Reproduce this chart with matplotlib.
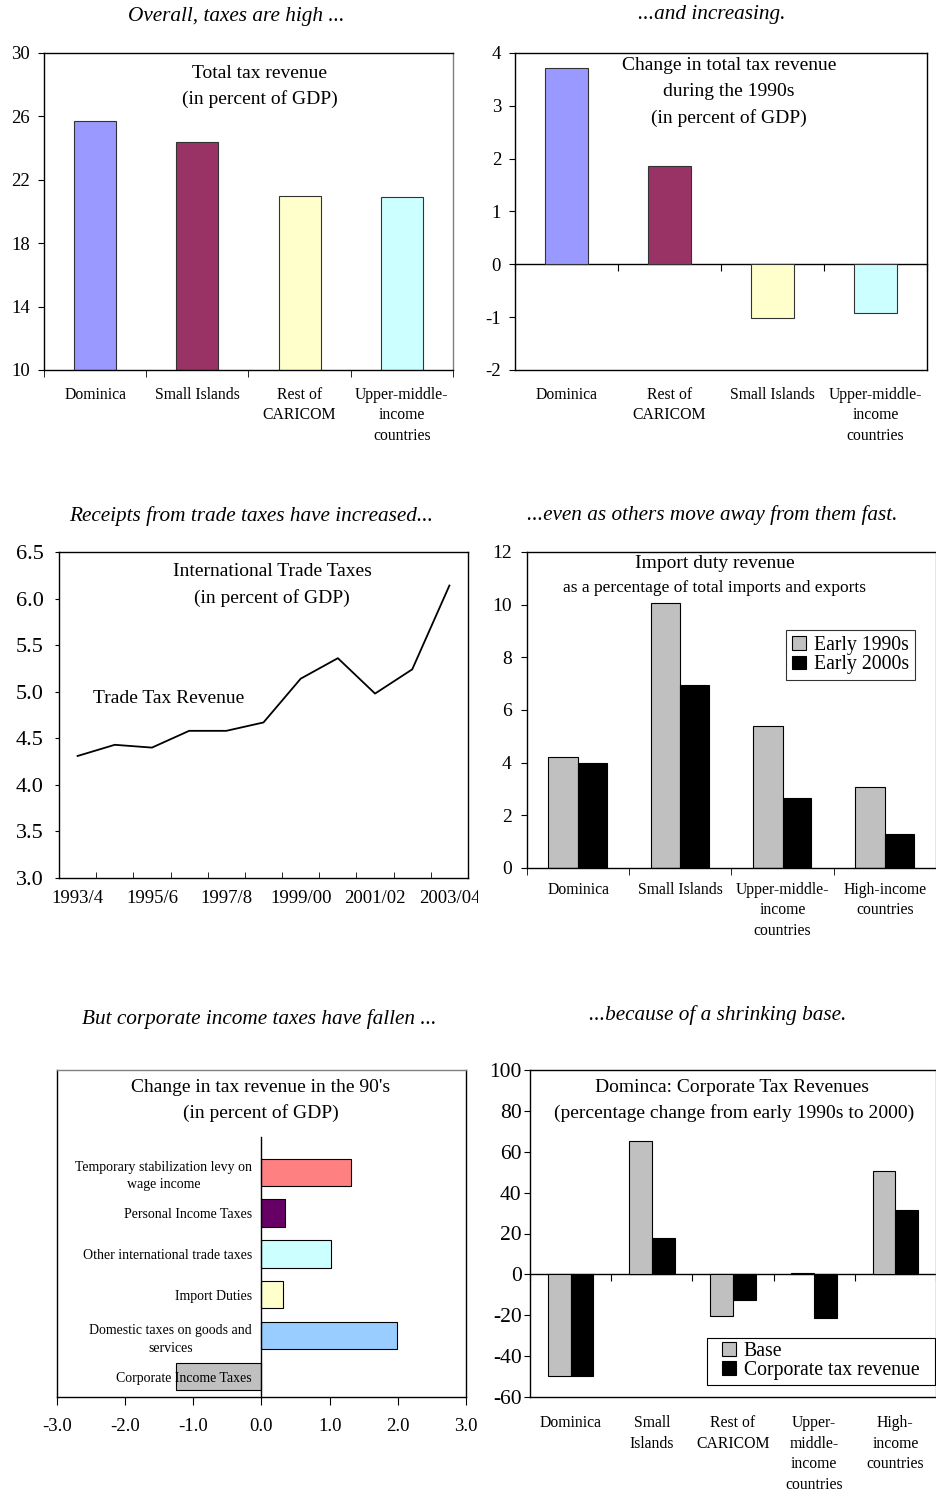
import matplotlib
matplotlib.use('Agg')
import matplotlib.pyplot as plt
import numpy as np
from matplotlib.transforms import Bbox, TransformedBbox
from matplotlib.patches import Rectangle

plt.rcParams['font.family'] = ['Liberation Serif', 'DejaVu Serif']
plt.rcParams['axes.unicode_minus'] = False
plt.rcParams['axes.linewidth'] = 1.0

# ---------------- data ----------------
p1_categories = ['Dominica', 'Small Islands', 'Rest of\nCARICOM', 'Upper-middle-\nincome\ncountries']
p1_values = [25.7, 24.4, 21.0, 20.9]

p2_categories = ['Dominica', 'Rest of\nCARICOM', 'Small Islands', 'Upper-middle-\nincome\ncountries']
p2_values = [3.71, 1.86, -1.02, -0.92]

p3_years = ['1993/4', '1994/5', '1995/6', '1996/7', '1997/8', '1998/9',
            '1999/00', '2000/01', '2001/02', '2002/03', '2003/04']
p3_values = [4.31, 4.43, 4.40, 4.58, 4.58, 4.67, 5.14, 5.36, 4.98, 5.24, 6.14]

p4_categories = ['Dominica', 'Small Islands', 'Upper-middle-\nincome\ncountries', 'High-income\ncountries']
p4_early1990s = [4.22, 10.05, 5.38, 3.08]
p4_early2000s = [3.97, 6.94, 2.64, 1.28]

p5_categories = ['Corporate Income Taxes', 'Domestic taxes on goods and\nservices', 'Import Duties',
                 'Other international trade taxes', 'Personal Income Taxes',
                 'Temporary stabilization levy on\nwage income']
p5_values = [-1.25, 1.99, 0.32, 1.02, 0.34, 1.31]

p6_categories = ['Dominica', 'Small\nIslands', 'Rest of\nCARICOM', 'Upper-\nmiddle-\nincome\ncountries',
                 'High-\nincome\ncountries']
p6_base = [-49.5, 65.3, -20.5, 0.8, 50.5]
p6_corporate = [-49.5, 17.6, -12.3, -21.5, 31.4]

# ---------------- styles ----------------
bar_colors_4 = ['#9999FF', '#993366', '#FFFFCC', '#CCFFFF']
p5_colors = ['#C0C0C0', '#99CCFF', '#FFFFCC', '#CCFFFF', '#660066', '#FF8080']
light_grey = '#C0C0C0'

W, H = 937, 1490
fig = plt.figure(figsize=(W / 100, H / 100), dpi=100)
fig.patch.set_facecolor('white')

TICK_FS = 13.5
CAT_FS = 11.3
CAT_LS = 1.38
TITLE_FS = 14
HEAD_FS = 15.3


def add_ax(l, t, r, b):
    return fig.add_axes([l / W, 1 - b / H, (r - l) / W, (b - t) / H])


def ftext(x, y, s, **kw):
    kw.setdefault('ha', 'center')
    kw.setdefault('va', 'center')
    fig.text(x / W, 1 - y / H, s, **kw)


# ---------------- headings ----------------
ftext(236, 17, 'Overall, taxes are high ...', style='italic', fontsize=HEAD_FS)
ftext(712, 14, '...and increasing.', style='italic', fontsize=HEAD_FS)
ftext(251, 516, 'Receipts from trade taxes have increased...', style='italic', fontsize=HEAD_FS)
ftext(712, 515, '...even as others move away from them fast.', style='italic', fontsize=HEAD_FS)
ftext(259, 1019, 'But corporate income taxes have fallen ...', style='italic', fontsize=HEAD_FS)
ftext(718, 1015, '...because of a shrinking base.', style='italic', fontsize=HEAD_FS)

# ---------------- chart 1 ----------------
ax = add_ax(44, 53, 453, 370)
x = np.arange(len(p1_categories))
ax.bar(x, p1_values, width=0.41, color=bar_colors_4, edgecolor='#333333', linewidth=0.8)
ax.set_xlim(-0.5, len(x) - 0.5)
ax.set_ylim(10, 30)
ax.set_yticks(np.arange(10, 31, 4))
ax.set_xticks(x)
ax.set_xticklabels(p1_categories, fontsize=CAT_FS, linespacing=CAT_LS)
ax.tick_params(axis='x', which='major', length=0, pad=12)
ax.set_xticks(np.arange(-0.5, len(x), 1), minor=True)
ax.tick_params(axis='x', which='minor', length=5, direction='out')
ax.tick_params(axis='y', labelsize=TICK_FS, length=4, direction='out', pad=6)
ax.spines['right'].set_color('#808080')
ftext(260, 73, 'Total tax revenue', fontsize=TITLE_FS)
ftext(260, 99, '(in percent of GDP)', fontsize=TITLE_FS)

# ---------------- chart 2 ----------------
ax = add_ax(515, 53, 927, 370)
x = np.arange(len(p2_categories))
ax.bar(x, p2_values, width=0.42, color=bar_colors_4, edgecolor='#333333', linewidth=0.8)
ax.set_xlim(-0.5, len(x) - 0.5)
ax.set_ylim(-2, 4)
ax.set_yticks(np.arange(-2, 5, 1))
ax.set_xticks(x)
ax.set_xticklabels(p2_categories, fontsize=CAT_FS, linespacing=CAT_LS)
ax.tick_params(axis='x', length=0, pad=12)
ax.tick_params(axis='y', labelsize=TICK_FS, length=4, direction='out', pad=6)
sec = ax.secondary_xaxis(0, transform=ax.transData)
sec.set_xticks(np.arange(-0.5, len(x), 1))
sec.tick_params(length=5, direction='out', labelbottom=False)
ftext(729, 66, 'Change in total tax revenue', fontsize=TITLE_FS)
ftext(729, 92, 'during the 1990s', fontsize=TITLE_FS)
ftext(729, 118, '(in percent of GDP)', fontsize=TITLE_FS)

# ---------------- chart 3 ----------------
ax = add_ax(59, 552, 468, 878)
x = np.arange(len(p3_years))
ax.plot(x, p3_values, color='black', linewidth=1.3)
ax.set_xlim(-0.5, len(x) - 0.5)
ax.set_ylim(3.0, 6.5)
ax.set_yticks(np.arange(3.0, 6.51, 0.5))
ax.set_yticklabels(['%.1f' % v for v in np.arange(3.0, 6.51, 0.5)])
ax.set_xticks(x[::2])
ax.set_xticklabels(p3_years[::2], fontsize=TICK_FS)
ax.tick_params(axis='x', which='major', length=0, pad=9)
ax.set_xticks(np.arange(0.5, len(x) - 1, 1), minor=True)
ax.tick_params(axis='x', which='minor', length=4, direction='in')
ax.tick_params(axis='y', labelsize=16, length=3, direction='out', pad=8)
clipbox = TransformedBbox(Bbox([[0, 0], [478 / W, 1]]), fig.transFigure)
for lbl in ax.get_xticklabels():
    lbl.set_clip_box(clipbox)
    lbl.set_clip_on(True)
ax.text(0.269, 0.552, 'Trade Tax Revenue', transform=ax.transAxes, ha='center', va='center',
        fontsize=TITLE_FS)
ftext(272, 571, 'International Trade Taxes', fontsize=TITLE_FS)
ftext(272, 598, '(in percent of GDP)', fontsize=TITLE_FS)

# ---------------- chart 4 ----------------
ax = add_ax(527, 552, 936, 868)
x = np.arange(len(p4_categories))
ax.bar(x - 0.145, p4_early1990s, width=0.29, color=light_grey, edgecolor='black', linewidth=0.8,
       label='Early 1990s')
ax.bar(x + 0.14, p4_early2000s, width=0.28, color='black', edgecolor='black', linewidth=0.8,
       label='Early 2000s')
ax.set_xlim(-0.5, len(x) - 0.5)
ax.set_ylim(0, 12)
ax.set_yticks(np.arange(0, 13, 2))
ax.set_xticks(x)
ax.set_xticklabels(p4_categories, fontsize=CAT_FS, linespacing=CAT_LS)
ax.tick_params(axis='x', which='major', length=0, pad=10)
ax.set_xticks(np.arange(-0.5, len(x), 1), minor=True)
ax.tick_params(axis='x', which='minor', length=5, direction='out')
ax.tick_params(axis='y', labelsize=14, length=4, direction='out', pad=7)
ax.spines['right'].set_color('#808080')
leg = ax.legend(loc='upper left', bbox_to_anchor=(786 / W, 1 - 630 / H), bbox_transform=fig.transFigure,
                frameon=True, fancybox=False, edgecolor='black', fontsize=14.2, handlelength=0.7,
                handleheight=0.7, handletextpad=0.4, labelspacing=0.02, borderpad=0.3,
                borderaxespad=0)
leg.get_frame().set_linewidth(0.8)
ftext(715, 563, 'Import duty revenue', fontsize=TITLE_FS)
ftext(715, 588, 'as a percentage of total imports and exports', fontsize=12.5)

# ---------------- chart 5 ----------------
ax = add_ax(57, 1070, 466, 1397)
y = np.arange(len(p5_categories))
ax.barh(y, p5_values, height=0.66, color=p5_colors, edgecolor='black', linewidth=0.8)
ax.set_xlim(-3, 3)
ax.set_ylim(-0.49, 7.49)
ax.spines['left'].set_position(('data', 0))
ax.spines['left'].set_bounds(-0.49, 5.85)
ax.axvline(-3, color='black', linewidth=1.0, clip_on=False)
ax.spines['top'].set_color('#808080')
ax.set_yticks(y)
ax.set_yticklabels(p5_categories, fontsize=10, linespacing=1.45, multialignment='center')
ax.tick_params(axis='y', length=0, pad=7)
ax.set_xticks(np.arange(-3, 3.1, 1))
ax.set_xticklabels(['%.1f' % v for v in np.arange(-3, 3.1, 1)])
ax.tick_params(axis='x', labelsize=TICK_FS, length=6, direction='out', pad=9)
ftext(261, 1087, "Change in tax revenue in the 90's", fontsize=TITLE_FS)
ftext(261, 1113, '(in percent of GDP)', fontsize=TITLE_FS)

# ---------------- chart 6 ----------------
ax = add_ax(530, 1070, 936, 1397)
x = np.arange(len(p6_categories))
ax.bar(x - 0.14, p6_base, width=0.28, color=light_grey, edgecolor='black', linewidth=0.8, label='Base')
ax.bar(x + 0.14, p6_corporate, width=0.28, color='black', edgecolor='black', linewidth=0.8,
       label='Corporate tax revenue')
ax.set_xlim(-0.5, len(x) - 0.5)
ax.set_ylim(-60, 100)
ax.set_yticks(np.arange(-60, 101, 20))
ax.set_xticks(x)
ax.set_xticklabels(p6_categories, fontsize=CAT_FS, linespacing=CAT_LS)
ax.tick_params(axis='x', length=0, pad=13)
ax.tick_params(axis='y', labelsize=15.5, length=4, direction='out', pad=2)
ax.spines['right'].set_color('#808080')
sec = ax.secondary_xaxis(0, transform=ax.transData)
sec.set_xticks(np.arange(-0.5, len(x), 1))
sec.tick_params(length=5, direction='out', labelbottom=False)
ax.add_patch(Rectangle((707 / W, 1 - 1385 / H), (935 - 707) / W, (1385 - 1338) / H,
                       transform=fig.transFigure, facecolor='white', edgecolor='black',
                       linewidth=0.8, zorder=4, clip_on=False))
leg = ax.legend(loc='center left', bbox_to_anchor=(722 / W, 1 - 1361 / H), bbox_transform=fig.transFigure,
                frameon=False, fontsize=14.2, handlelength=0.7,
                handleheight=0.7, handletextpad=0.4, labelspacing=0.02, borderpad=0.0,
                borderaxespad=0)
leg.set_zorder(6)
ftext(732, 1087, 'Dominca: Corporate Tax Revenues', fontsize=TITLE_FS)
ftext(734, 1113, '(percentage change from early 1990s to 2000)', fontsize=TITLE_FS)

fig.savefig('out.png', dpi=100, facecolor='white')
